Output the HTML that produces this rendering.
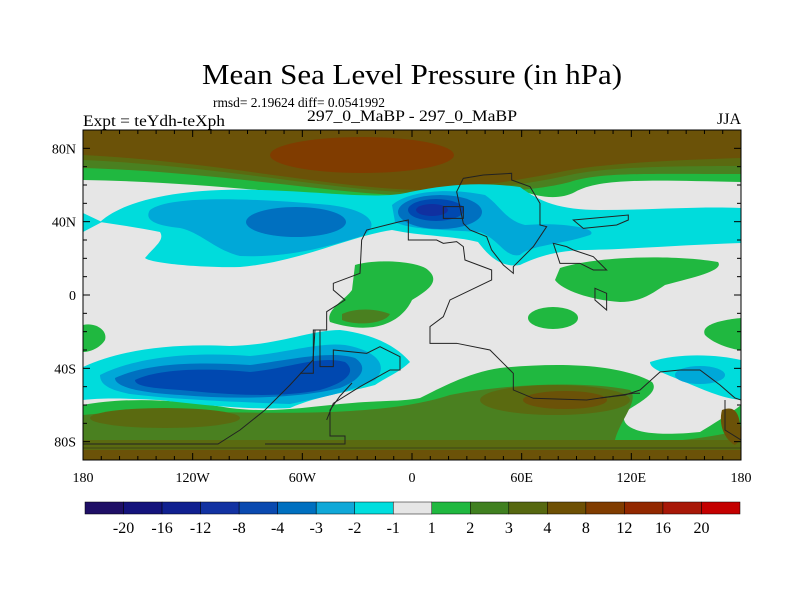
<!DOCTYPE html>
<html><head><meta charset="utf-8"><style>
html,body{margin:0;padding:0;background:#fff;}
svg{display:block;font-family:"Liberation Serif",serif;}
</style></head><body>
<svg id="chart" width="800" height="600" viewBox="0 0 800 600" xmlns="http://www.w3.org/2000/svg">
<defs><clipPath id="pc"><rect x="83" y="130" width="658" height="330"/></clipPath></defs>
<text x="412" y="84" font-size="28" text-anchor="middle" textLength="420" lengthAdjust="spacingAndGlyphs">Mean Sea Level Pressure (in hPa)</text>
<text x="213" y="107" font-size="14" textLength="172" lengthAdjust="spacingAndGlyphs">rmsd= 2.19624 diff= 0.0541992</text>
<text x="412" y="121" font-size="16" text-anchor="middle" textLength="210" lengthAdjust="spacingAndGlyphs">297_0_MaBP - 297_0_MaBP</text>
<text x="83" y="126" font-size="16" textLength="142" lengthAdjust="spacingAndGlyphs">Expt = teYdh-teXph</text>
<text x="741" y="124" font-size="16" text-anchor="end">JJA</text>

<g clip-path="url(#pc)">
<rect x="83" y="130" width="658" height="330" fill="#e6e6e6"/>
<!-- NH high band -->
<path fill="#20b840" d="M83,130 H741 V182 C650,180 600,178 575,192 C560,200 540,198 520,190 C470,196 440,202 420,202 C330,200 220,182 83,180 Z"/>
<path fill="#4a8020" d="M83,130 H741 V174 C650,174 600,172 570,182 C540,190 500,192 420,196 C330,194 220,172 83,168 Z"/>
<path fill="#5a6a10" d="M83,130 H741 V166 C650,166 600,168 565,176 C520,186 470,190 420,193 C330,190 220,166 83,160 Z"/>
<path fill="#6b5208" d="M83,130 H741 V158 C680,160 600,163 560,172 C500,184 460,188 420,190 C330,188 220,162 83,155 Z"/>
<ellipse fill="#803c00" cx="362" cy="155" rx="92" ry="18"/>
<!-- NH cyan band -->
<path fill="#00dcdc" d="M100,222 C130,195 200,188 260,190 C330,192 380,200 410,192 C450,184 480,182 520,187 C540,202 560,210 600,210 C650,210 700,206 741,208 V243 C680,245 620,250 580,250 C550,252 535,258 520,265 C500,268 488,255 478,242 C455,236 420,236 392,230 C350,236 300,262 240,267 C200,268 150,263 145,258 C155,246 165,240 160,232 C140,228 120,225 100,222Z"/>
<path fill="#00dcdc" d="M83,213 L102,222 L83,232Z"/>
<path fill="#00a8d8" d="M150,210 C170,195 250,198 330,205 C370,210 382,225 362,236 C330,246 290,258 240,256 C215,250 200,232 180,228 C150,225 145,218 150,210Z"/>
<path fill="#00a8d8" d="M392,205 C410,190 450,188 485,195 C500,205 505,220 525,225 C560,222 600,228 590,235 C560,245 530,245 520,255 C505,258 500,240 480,232 C450,230 410,230 395,222Z"/>
<ellipse fill="#0070c0" cx="296" cy="222" rx="50" ry="15"/>
<ellipse fill="#0070c0" cx="440" cy="212" rx="42" ry="17"/>
<ellipse fill="#0048b0" cx="436" cy="210" rx="28" ry="11"/>
<ellipse fill="#1030a0" cx="432" cy="210" rx="16" ry="6"/>
<!-- tropical greens -->
<path fill="#20b840" d="M355,265 C380,258 420,262 428,270 C442,282 425,292 412,300 C400,325 370,335 330,322 C325,310 345,300 352,290 Z"/>
<path fill="#4a8020" d="M342,314 C355,308 375,308 390,314 C385,324 355,326 342,320Z"/>
<ellipse fill="#20b840" cx="553" cy="318" rx="25" ry="11"/>
<path fill="#20b840" d="M560,268 C600,255 680,255 718,262 C724,270 700,276 665,285 C650,295 640,302 620,302 C590,300 562,290 555,280Z"/>
<path fill="#20b840" d="M741,318 C720,320 700,325 705,335 C715,345 735,350 741,350Z"/>
<path fill="#20b840" d="M83,325 C95,322 108,330 105,340 C100,348 90,352 83,352Z"/>
<!-- SH greens/browns -->
<path fill="#20b840" d="M83,405 C120,398 170,398 230,408 C270,413 300,408 340,404 C380,400 400,402 420,398 C440,388 470,372 500,368 C560,362 620,364 652,382 C660,392 640,402 625,412 C618,428 640,438 700,432 C720,420 735,410 741,405 V460 H83Z"/>
<path fill="#4a8020" d="M83,415 C150,408 250,415 330,412 C380,410 420,405 450,395 C500,385 580,380 630,390 C640,400 620,420 615,440 C650,445 700,440 741,430 V460 H83Z"/>
<ellipse fill="#5a6a10" cx="165" cy="418" rx="75" ry="10"/>
<ellipse fill="#5a6a10" cx="555" cy="400" rx="75" ry="15"/>
<ellipse fill="#6b5208" cx="565" cy="400" rx="42" ry="9"/>
<rect fill="#5a6a10" x="83" y="440" width="658" height="20"/>
<rect fill="#6b5208" x="83" y="450" width="658" height="10"/>
<path fill="#6b5208" d="M722,410 C735,405 741,412 741,440 L735,445 C725,440 718,425 722,410Z"/>
<!-- SH cyan band -->
<path fill="#00dcdc" d="M83,367 C120,350 170,343 230,346 C280,345 310,330 340,330 C380,335 400,350 410,362 C400,372 385,378 375,385 C350,392 320,395 290,408 C250,410 200,405 160,400 C120,398 100,398 83,400Z"/>
<path fill="#00a8d8" d="M100,375 C140,355 200,352 250,356 C290,352 320,342 345,345 C375,350 390,365 375,380 C350,392 320,398 290,404 C240,402 180,400 130,394 C110,390 100,385 100,375Z"/>
<path fill="#0070c0" d="M115,378 C150,362 200,362 250,365 C290,360 330,350 355,358 C370,368 360,380 340,388 C300,398 240,400 180,395 C130,392 115,385 115,378Z"/>
<path fill="#0048b0" d="M135,380 C160,368 210,368 250,372 C290,368 320,355 345,362 C358,372 345,383 320,390 C280,398 230,395 180,390 C150,388 135,386 135,380Z"/>
<path fill="#00dcdc" d="M650,362 C680,352 720,355 741,360 V400 C720,398 700,388 680,380 C660,372 650,368 650,362Z"/>
<ellipse fill="#00a8d8" cx="700" cy="375" rx="25" ry="9"/>
<!-- coastlines -->
<g fill="none" stroke="#222" stroke-width="3" transform="translate(300,160) scale(0.3333)">
<path d="M300,185 L325,180 L325,240 L410,240 L430,250 L470,245 L490,260 L495,300 L575,330 L575,360 L450,420 L430,470 L390,500 L390,550 L470,550 L570,570 L610,610 L640,640 L640,690 L700,715 L860,720 L1000,700 L1020,700"/>
<path d="M300,185 L200,210 L185,240 L180,340 L100,370 L100,390 L135,420 L80,455 L80,510 L40,510 L40,640 L0,640"/>
<path d="M490,190 L470,95 L490,55 L550,45 L635,40 L635,60 L690,80 L720,130 L720,195 L740,200 L700,260 L640,320 L640,340 L610,315 L575,270 L560,230 L510,210 Z"/>
<path d="M430,140 L490,140 L490,175 L430,175Z"/>
<path d="M820,180 L985,165 L985,180 L950,195 L850,205 Z"/>
<path d="M760,250 L800,260 L820,270 L880,290 L920,330 L880,330 L840,310 L780,310 Z"/>
<path d="M885,385 L920,400 L920,450 L885,420Z"/>
<path d="M60,510 L60,620 L100,620 L100,570 L200,580 L240,560 L300,590 L300,630 L270,630 L180,680 L100,730 L80,780"/>
</g>
<g fill="none" stroke="#222" stroke-width="1">
<path d="M83,444 L218,444 L240,430 L265,410 L290,385 L313,360 L315,330 L320,330 L320,360"/>
<path d="M265,444 L345,444 L345,436 L330,436 L330,410 L340,396 L352,383"/>
<path d="M600,398 L625,395 L640,390 L660,372 L680,370 L700,370 L720,385 L735,398 L741,400"/>
<path d="M725,400 L725,430 L741,440"/>
<path d="M83,448 L741,448" stroke-width="0.6"/>
</g>
</g>
<rect x="83" y="130" width="658" height="330" fill="none" stroke="#000" stroke-width="1"/>
<g id="axes"></g>
<g id="cbar"></g>
<script>
const lonTickValues=[-180,-120,-60,0,60,120,180];
const lonTickLabels=["180","120W","60W","0","60E","120E","180"];
const latTickValues=[80,40,0,-40,-80];
const latTickLabels=["80N","40N","0","40S","80S"];
const levelLabels=["-20","-16","-12","-8","-4","-3","-2","-1","1","2","3","4","8","12","16","20"];
const levelColors=["#1f0f66","#14137c","#102090","#1232a2","#0a4ab0","#0070c0","#10a8d8","#00dede","#e6e6e6","#20b840","#408020","#566810","#6e5004","#803c00","#922800","#a81808","#c40000"];
const NS="http://www.w3.org/2000/svg";
const X0=83,X1=741,Y0=130,Y1=460;
function xs(lon){return X0+(lon+180)/360*(X1-X0);}
function ys(lat){return Y0+(90-lat)/180*(Y1-Y0);}
function mk(tag,attrs,parent){const e=document.createElementNS(NS,tag);for(const k in attrs)e.setAttribute(k,attrs[k]);parent.appendChild(e);return e;}
const ax=document.getElementById('axes');
for(let lon=-180;lon<=180;lon+=10){
  const len=(lon%60===0)?7:4;
  const t1=mk('line',{x1:xs(lon),x2:xs(lon),y1:Y1,y2:Y1-len,stroke:'#000'},ax);
  
  
  const t2=mk('line',{x1:xs(lon),x2:xs(lon),y1:Y0,y2:Y0+len,stroke:'#000'},ax);
  
  
}
for(let lat=-90;lat<=90;lat+=10){
  const len=(lat%40===0)?7:4;
  const t1=mk('line',{x1:X0,x2:X0+len,y1:ys(lat),y2:ys(lat),stroke:'#000'},ax);
  
  
  const t2=mk('line',{x1:X1,x2:X1-len,y1:ys(lat),y2:ys(lat),stroke:'#000'},ax);
  
  
}
lonTickValues.forEach((v,i)=>{
  const t=mk('text',{x:xs(v),y:482,'font-size':14,'text-anchor':'middle'},ax);
  t.textContent=lonTickLabels[i];
  
  
});
latTickValues.forEach((v,i)=>{
  const t=mk('text',{x:76,y:ys(v)+5,'font-size':14,'text-anchor':'end'},ax);
  t.textContent=latTickLabels[i];
  
  
});
const cb=document.getElementById('cbar');
const CB0=85,CB1=740,CBY=502,CBH=12;
const bw=(CB1-CB0)/levelColors.length;
levelColors.forEach((c,i)=>{
  const r=mk('rect',{x:CB0+i*bw,y:CBY,width:bw,height:CBH,fill:c,stroke:'#000','stroke-width':0.5},cb);
  
  
});
levelLabels.forEach((l,i)=>{
  const t=mk('text',{x:CB0+(i+1)*bw,y:533,'font-size':16,'text-anchor':'middle'},cb);
  t.textContent=l;
  
  
});
</script>
</svg>
</body></html>
